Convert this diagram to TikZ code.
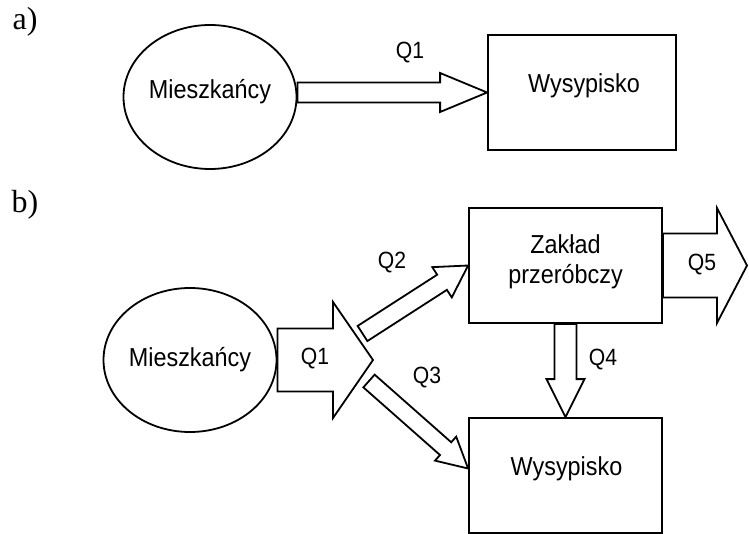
\documentclass[tikz,border=0pt]{standalone}
\usepackage{fontspec}
\setmainfont[FakeStretch=0.9]{Liberation Sans}
\newfontfamily\partfont{Liberation Serif}
\usetikzlibrary{shapes.geometric,calc}

\tikzset{
  box/.style={draw, line width=1.8pt, minimum width=193pt, minimum height=115pt, inner sep=0pt},
  ell/.style={draw, ellipse, line width=1.8pt, minimum width=173pt, minimum height=144pt, inner sep=0pt},
  txt/.style={font=\fontsize{26}{30}\selectfont, align=center, inner sep=0pt},
  qlab/.style={font=\fontsize{23.5}{26}\selectfont, inner sep=0pt},
  part/.style={font=\partfont\fontsize{32}{32}\selectfont, inner sep=0pt},
  flow/.style={draw, line width=1.8pt, line join=miter, fill=white}
}

%% block arrow: start, tip, half shaft, half head, head length
\newcommand{\flowarrow}[5]{%
  \coordinate (fh) at ($(#2)!#5!(#1)$);
  \draw[flow] ($(#1)!#3!90:(#2)$) -- ($(fh)!#3!90:(#2)$) -- ($(fh)!#4!90:(#2)$)
    -- (#2) -- ($(fh)!#4!-90:(#2)$) -- ($(fh)!#3!-90:(#2)$) -- ($(#1)!#3!-90:(#2)$) -- cycle;
}

\begin{document}
\begin{tikzpicture}[x=1pt,y=-1pt]
\useasboundingbox (0,0) rectangle (749,534);

%% part a
\node[part] (la) at (25,22) {a)};
\node[ell] (ellA) at (210,97) {};
\node[txt] (tA1) at (210,92) {Mieszkańcy};
\node[box, minimum width=188pt] (boxA) at (582,92.5) {};
\node[txt] (tA2) at (584,86) {Wysypisko};

\coordinate (a1s) at (ellA.east |- boxA.west);
\flowarrow{a1s}{boxA.west}{10pt}{19.5pt}{47pt}
\node[qlab] (qa1) at (410,53) {Q1};

%% part b
\node[part] (lb) at (25,205) {b)};
\node[ell] (ellB) at (190,360) {};
\node[txt] (tB1) at (190,360) {Mieszkańcy};
\node[box] (boxZ) at (565.5,265.5) {};
\node[txt] (tB2) at (565.5,262) {Zakład\\przeróbczy};
\node[box] (boxW) at (565.5,475.5) {};
\node[txt] (tB3) at (566.5,469) {Wysypisko};

%% flows
\coordinate (q1t) at (373,360);
\coordinate (q2s) at (362.5,333.5);
\coordinate (q3s) at (369,381);
\coordinate (q3t) at ([yshift=7pt]boxW.west);
\coordinate (q5t) at (747,265.5);

\flowarrow{ellB.east}{q1t}{31.5pt}{58pt}{40pt}
\flowarrow{q2s}{boxZ.west}{9pt}{18pt}{31pt}
\flowarrow{q3s}{q3t}{8.5pt}{16pt}{30pt}
\flowarrow{boxZ.south}{boxW.north}{11pt}{19pt}{38pt}
\flowarrow{boxZ.east}{q5t}{32pt}{57.5pt}{30pt}

%% labels
\node[qlab] (qb1) at (315,359) {Q1};
\node[qlab] (qb2) at (392,263) {Q2};
\node[qlab] (qb3) at (427,378) {Q3};
\node[qlab] (qb4) at (603,360) {Q4};
\node[qlab] (qb5) at (702,265) {Q5};
\end{tikzpicture}
\end{document}
